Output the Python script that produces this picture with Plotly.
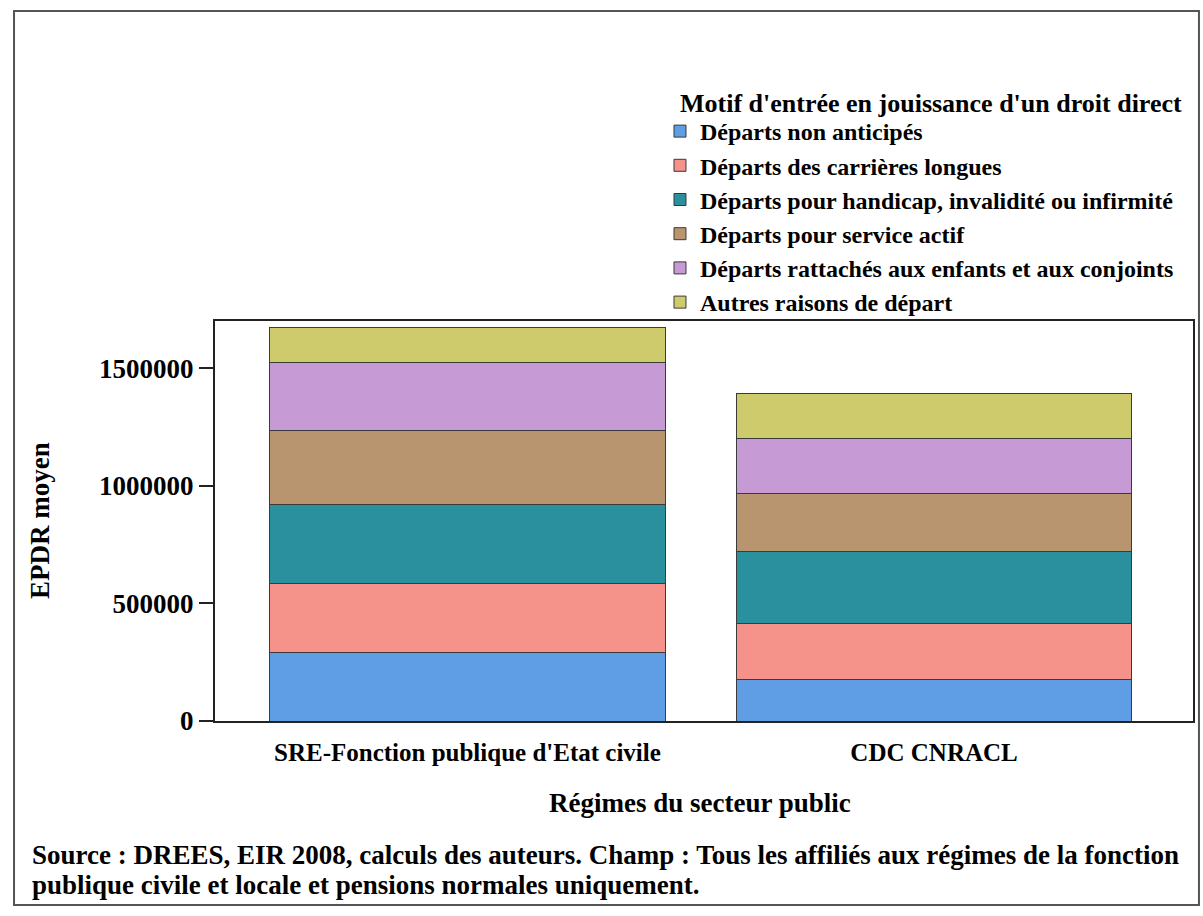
import plotly.graph_objects as go

categories = ["SRE-Fonction publique d'Etat civile", "CDC CNRACL"]
series_names = [
    "Départs non anticipés",
    "Départs des carrières longues",
    "Départs pour handicap, invalidité ou infirmité",
    "Départs pour service actif",
    "Départs rattachés aux enfants et aux conjoints",
    "Autres raisons de départ",
]
non_anticipes = [292000, 175000]
carrieres_longues = [293000, 240000]
handicap = [336000, 307000]
service_actif = [315000, 246000]
enfants_conjoints = [289000, 234000]
autres = [148000, 191000]
series_values = [non_anticipes, carrieres_longues, handicap, service_actif,
                 enfants_conjoints, autres]
colors = ["#5f9de4", "#f5928a", "#2a909e", "#b9956f", "#c59ad5", "#cdcb6b"]
y_ticks = [0, 500000, 1000000, 1500000]
legend_title = "Motif d'entrée en jouissance d'un droit direct"
source_lines = [
    "Source : DREES, EIR 2008, calculs des auteurs. Champ : Tous les affiliés aux régimes de la fonction",
    "publique civile et locale et pensions normales uniquement.",
]

FONT = "Liberation Serif"


def f(size):
    return dict(family=FONT, size=size, color="black", weight="bold")


fig = go.Figure()
for name, vals, col in zip(series_names, series_values, colors):
    fig.add_trace(go.Bar(
        x=[0, 1], y=vals, name=name,
        marker=dict(color=col, line=dict(color="#3a3a3a", width=1)),
        width=0.847,
    ))

fig.update_layout(
    width=1203, height=916,
    barmode="stack",
    plot_bgcolor="white", paper_bgcolor="white",
    margin=dict(l=215, r=10, t=321, b=195, autoexpand=False),
    font=f(24),
    showlegend=True,
    legend=dict(
        x=0.455, xanchor="left", y=1.53, yanchor="top",
        traceorder="normal",
        font=f(24),
        bgcolor="rgba(0,0,0,0)", tracegroupgap=0, itemwidth=30,
    ),
    xaxis=dict(
        tickmode="array", tickvals=[0, 1], ticktext=categories,
        range=[-0.541, 1.555], showgrid=False, zeroline=False,
        showline=True, linecolor="#222", linewidth=2, mirror=True,
        ticks="", ticklabelstandoff=8,
        tickfont=f(25),
    ),
    yaxis=dict(
        range=[0, 1700000], tickmode="array", tickvals=y_ticks,
        ticktext=[str(v) for v in y_ticks],
        showgrid=False, zeroline=False,
        showline=True, linecolor="#222", linewidth=2, mirror=True,
        ticks="outside", ticklen=14, tickcolor="#222", tickwidth=2,
        tickfont=f(27),
    ),
    annotations=[
        dict(text=legend_title, xref="paper", yref="paper",
             x=0.4734, y=1.545, xanchor="left", yanchor="middle",
             showarrow=False, font=f(26)),
        dict(text="Régimes du secteur public", xref="paper", yref="paper",
             x=0.496, y=-0.205, xanchor="center", yanchor="middle",
             showarrow=False, font=f(27)),
        dict(text="EPDR moyen", xref="paper", yref="paper",
             x=-0.179, y=0.5025, xanchor="center", yanchor="middle",
             textangle=-90, showarrow=False, font=f(27)),
        dict(text=source_lines[0], xref="paper", yref="paper",
             x=-0.189, y=-0.335, xanchor="left", yanchor="middle",
             showarrow=False, font=f(27)),
        dict(text=source_lines[1], xref="paper", yref="paper",
             x=-0.189, y=-0.41, xanchor="left", yanchor="middle",
             showarrow=False, font=f(27)),
    ],
    shapes=[
        dict(type="rect", xref="paper", yref="paper",
             x0=-0.2055, x1=1.0061, y0=-0.46, y1=1.775,
             line=dict(color="#555", width=2), fillcolor="rgba(0,0,0,0)",
             layer="below"),
    ],
)

fig.write_html("out.html", config={"displayModeBar": False},
               post_script="document.body.style.margin='0px';")
